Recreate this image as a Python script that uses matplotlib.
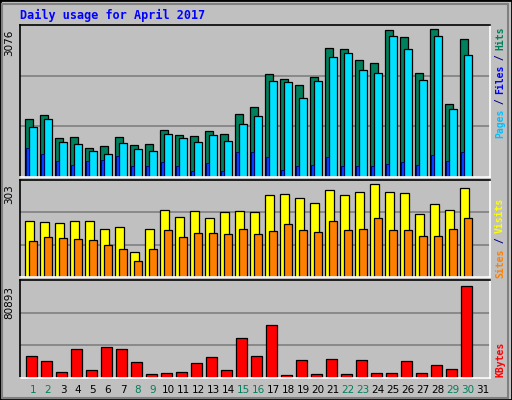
import matplotlib
matplotlib.use("Agg")
import matplotlib.pyplot as plt
import numpy as np
from matplotlib.patches import Rectangle

days = list(range(1, 32))
weekend = [1, 2, 8, 9, 15, 16, 22, 23, 29, 30]
hits = [1199, 1283, 804, 825, 595, 637, 825, 658, 679, 971, 867, 846, 950, 888, 1305, 1451, 2150, 2046, 1921, 2088, 2679, 2658, 2428, 2366, 3055, 2908, 2171, 3076, 1510, 2867, 0]
pages = [1051, 1218, 720, 679, 533, 470, 700, 574, 533, 888, 804, 720, 867, 741, 1096, 1263, 2004, 1983, 1635, 2004, 2505, 2589, 2234, 2171, 2930, 2658, 2025, 2930, 1406, 2533, 0]
files = [612, 487, 341, 258, 341, 362, 445, 237, 237, 320, 237, 132, 299, 132, 529, 529, 425, 153, 237, 258, 425, 237, 237, 237, 278, 320, 258, 466, 341, 529, 0]
visits = [182, 179, 176, 182, 182, 155, 162, 83, 158, 217, 194, 214, 191, 211, 214, 211, 267, 270, 257, 241, 283, 267, 277, 303, 277, 274, 204, 237, 217, 290, 0]
sites = [116, 132, 128, 125, 121, 105, 92, 53, 92, 154, 132, 145, 145, 141, 158, 141, 151, 174, 154, 148, 184, 154, 158, 191, 154, 154, 135, 135, 158, 191, 0]
kbytes = [19780, 15352, 5609, 25093, 7380, 26864, 25093, 14466, 3838, 4724, 5609, 13581, 18894, 7380, 34836, 19780, 46345, 2952, 16238, 3838, 17123, 3838, 16238, 4724, 4724, 15352, 4724, 11810, 8266, 80893, 0]

BG = "#C0C0C0"
fig = plt.figure(figsize=(5.12, 4.0), dpi=100, facecolor=BG)
W, H = 512, 400

def axes(top, bottom):
    ax = fig.add_axes([20 / W, (H - bottom) / H, 470 / W, (bottom - top) / H])
    ax.set_facecolor(BG)
    ax.set_xlim(0.133, 31.47)
    ax.set_xticks([]); ax.set_yticks([])
    for s in ("left", "top"):
        ax.spines[s].set_color("black")
    for s in ("right", "bottom"):
        ax.spines[s].set_color("white")
    for s in ax.spines.values():
        s.set_linewidth(1.2)
    return ax

def grid(ax, top):
    ax.set_ylim(0, top)
    for f in (1 / 3, 2 / 3):
        ax.axhline(top * f, color="#808080", lw=1.2, zorder=0)

def maxlabel(ax, val):
    ax.text(-0.012, val, str(val), transform=ax.get_yaxis_transform(), rotation=90,
            ha="right", va="top", fontsize=7.5, color="black")

def rightlabel(parts, bottom_y, cw=5.5):
    i = 0
    for txt, col in parts:
        L = len(txt)
        cy = bottom_y - (i + L / 2) * cw
        fig.text(500 / W, (H - cy) / H, txt, rotation=90, ha="center", va="center",
                 color=col, fontsize=7, family="DejaVu Sans Mono", fontweight="bold")
        i += L

x = np.array(days, dtype=float)
ek = dict(edgecolor="black", linewidth=0.9, align="edge")

# top panel
ax1 = axes(25, 177)
grid(ax1, 3076 * 151.7 / 147.4)
ax1.bar(x - 0.51, hits, width=0.49, color="#00805C", **ek)
ax1.bar(x - 0.27, pages, width=0.51, color="#00E0FF", **ek)
ax1.bar(x - 0.44, files, width=0.18, color="#0040FF", edgecolor="#000060", linewidth=0.6, align="edge")
maxlabel(ax1, 3076)
rightlabel([("Pages", "#00C0FF"), (" / ", "#000080"), ("Files", "#0000FF"), (" / ", "#000080"), ("Hits", "#00805C")], 137)

# middle panel
ax2 = axes(180, 277)
grid(ax2, 303 * 96 / 92)
ax2.bar(x - 0.51, visits, width=0.56, color="#FFFF00", **ek)
ax2.bar(x - 0.27, sites, width=0.51, color="#FF8000", **ek)
maxlabel(ax2, 303)
rightlabel([("Sites", "#FF8000"), (" / ", "#000080"), ("Visits", "#FFFF00")], 277, 5.6)

# bottom panel
ax3 = axes(280, 378)
grid(ax3, 80893 * 97.3 / 91.3)
ax3.bar(x - 0.47, kbytes, width=0.71, color="#FF0000", **ek)
maxlabel(ax3, 80893)
rightlabel([("KBytes", "#FF0000")], 377, 6)

for d in days:
    ax3.text(d, -0.12, str(d), transform=ax3.get_xaxis_transform(), ha="center", va="center",
             fontsize=7.5, color="#00805C" if d in weekend else "black")

fig.text(20 / W, (H - 15) / H, "Daily usage for April 2017", ha="left", va="center",
         fontsize=8.5, fontweight="bold", family="DejaVu Sans Mono", color="#0000FF")

# frame / bevel
fig.patches.append(Rectangle((0, 0), 1, 1, transform=fig.transFigure, fill=False,
                             edgecolor="black", linewidth=2))
fig.patches.append(Rectangle((2 / W, 2 / H), (W - 6) / W, (H - 6) / H, transform=fig.transFigure,
                             fill=False, edgecolor="#808080", linewidth=1.5))

fig.savefig("out.png", dpi=100, facecolor=BG)
